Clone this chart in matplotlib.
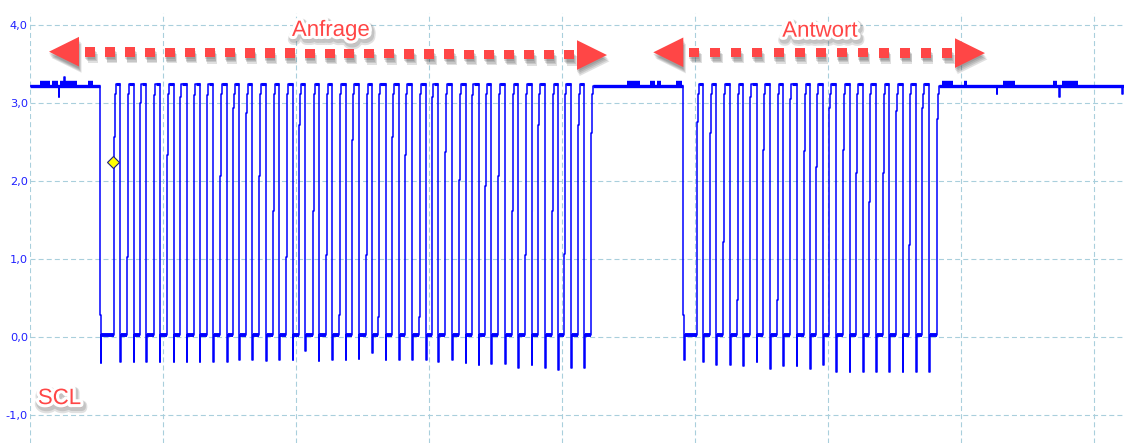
import numpy as np
import matplotlib
matplotlib.use("Agg")
import matplotlib.pyplot as plt
from matplotlib import patheffects as pe
from matplotlib.patches import Polygon, Rectangle

# x axis: scope samples (133 samples per division), y axis: volts
idle_level = 3.22
top_level = 3.24
low_level = 0.02

# request burst (Anfrage)
req_start_fall = 69.7
req_start_spike = -0.33
req_rises = [84, 97, 110.3, 123.7, 136.7, 150, 163.7, 177, 190.3,
             203, 216.3, 229.3, 242.7, 256, 269, 282.7, 295.7, 309.3,
             322.3, 335.7, 348.3, 362.3, 375, 389, 402.3, 415, 429,
             441.7, 455, 468.3, 481.7, 495, 508.3, 521.7, 534.3, 547.7]
req_mids = [2.57, 1.02, 3.0, 3.1, 2.33, 3.08, 3.1, 3.1, 2.06,
            2.93, 2.87, 2.06, 1.61, 1.02, 2.72, 1.61, 1.05, 0.28, 2.53,
            1.05, 0.26, 2.57, 2.33, 0.26, 3.08, 2.37, 2.01, 3.1, 1.93,
            2.06, 1.61, 1.05, 2.72, 1.61, 1.07, 2.72]
req_falls = [90.3, 103.7, 116.3, 129.7, 143.7, 156.7, 169.7, 183.3, 197,
             209.3, 222.3, 236.3, 249.3, 262.7, 275.3, 288.7, 302, 315.7,
             328.7, 342.3, 355.7, 369, 382.3, 396, 408.3, 422.3, 435.7,
             448.7, 461.3, 475.3, 488.3, 501.7, 515, 528.3, 541.3, 554.3]
req_spikes = [-0.32, -0.32, -0.32, -0.32, -0.32, -0.32, -0.32, -0.32, -0.32,
              -0.30, -0.30, -0.31, -0.30, -0.30, -0.18, -0.31, -0.30, -0.30, -0.28,
              -0.21, -0.29, -0.29, -0.29, -0.29, -0.32, -0.29, -0.33, -0.36,
              -0.34, -0.34, -0.40, -0.36, -0.40, -0.42, -0.40, -0.40]
req_stop_rise = 561.0
req_stop_mid = 2.61

# response burst (Antwort)
resp_start_fall = 653.3
resp_start_spike = -0.29
resp_rises = [666.7, 680, 693.3, 706.7, 720, 733.3, 746.7, 760, 774,
              786.3, 799.3, 812.7, 826, 839, 852.7, 865.7, 879.3, 892.3]
resp_mids = [2.76, 2.61, 1.22, 0.47, 3.08, 2.4, 0.47, 3.05, 2.38,
             2.18, 2.93, 2.4, 2.1, 1.73, 2.1, 2.9, 1.18, 2.93]
resp_falls = [673.3, 686.3, 700.3, 713.3, 726.7, 740, 753.3, 766.7, 780.3,
              793.3, 806.3, 819.7, 833.3, 846.3, 859.3, 872.7, 886, 899.3]
resp_spikes = [-0.32, -0.36, -0.36, -0.37, -0.32, -0.41, -0.37, -0.37, -0.41,
               -0.36, -0.45, -0.45, -0.45, -0.45, -0.45, -0.45, -0.45, -0.45]
resp_stop_rise = 906.7
resp_stop_mid = 2.8

# idle glitches and noisy stretches
idle_glitches = [(28.7, 3.08), (34.3, 3.33), (966.7, 3.12), (1029, 3.08), (1092, 3.12)]
idle_noise = [(10, 20), (22, 28), (30, 47), (58, 63),
              (597, 610), (620, 625), (627, 631), (646, 652),
              (912, 923), (934, 937), (973, 985), (1023, 1027), (1032, 1048)]
t_end = 1094

cursor_t, cursor_v = 83, 2.24

y_ticks = [-1, 0, 1, 2, 3, 4]
y_labels = ['-1,0', '0,0', '1,0', '2,0', '3,0', '4,0']
div = 133

BLUE = '#0000ff'
RED = '#ff4646'

ts, vs = [0.0], [idle_level]


def go(t, y):
    ts.append(t); vs.append(vs[-1])
    ts.append(t); vs.append(y)


def idle_until(t_stop):
    for gt, gy in idle_glitches:
        if ts[-1] < gt < t_stop:
            go(gt, gy)
            go(gt + 0.6, idle_level)
    go(t_stop, idle_level)


def rise(r, m, final=idle_level):
    go(r, m)
    if m < 3.0:
        go(r + 0.8, 3.12)
        go(r + 1.8, final)
    else:
        go(r + 1.0, final)


tops, lows = [], []


def burst(sf, sspike, rises, mids, falls, spikes, stop_r, stop_m):
    go(sf, 0.28)
    go(sf + 1.0, sspike)
    go(sf + 1.6, low_level)
    prev = sf + 1.6
    for r, m, f, s in zip(rises, mids, falls, spikes):
        lows.append((prev, r))
        rise(r, m, top_level)
        tops.append((r + 1.8, f))
        go(f, s)
        go(f + 0.6, low_level)
        prev = f + 0.6
    lows.append((prev, stop_r))
    rise(stop_r, stop_m)


idle_until(req_start_fall)
burst(req_start_fall, req_start_spike, req_rises, req_mids, req_falls,
      req_spikes, req_stop_rise, req_stop_mid)
idle_until(resp_start_fall)
burst(resp_start_fall, resp_start_spike, resp_rises, resp_mids, resp_falls,
      resp_spikes, resp_stop_rise, resp_stop_mid)
idle_until(t_end)

fig = plt.figure(figsize=(11.24, 4.43), dpi=100)
ax = fig.add_axes([30 / 1124, 0, 1094 / 1124, 430 / 443])

ax.plot(ts, vs, color=BLUE, lw=1.1, zorder=3)
ax.hlines([low_level] * len(lows), [a for a, b in lows], [b for a, b in lows],
          color=BLUE, lw=2.8, zorder=3)
ax.hlines([top_level] * len(tops), [a for a, b in tops], [b for a, b in tops],
          color=BLUE, lw=2.2, zorder=3)
idle_ranges = [(0, req_start_fall), (req_stop_rise + 1.8, resp_start_fall),
               (resp_stop_rise + 1.8, t_end)]
ax.hlines([idle_level] * 3, [a for a, b in idle_ranges], [b for a, b in idle_ranges],
          color=BLUE, lw=2.4, zorder=3)
ax.hlines([3.25] * len(idle_noise), [a for a, b in idle_noise], [b for a, b in idle_noise],
          color=BLUE, lw=4.6, zorder=3)

ax.plot([cursor_t], [cursor_v], marker='D', ms=6, color='#ffff00',
        mec='#202080', mew=0.8, zorder=5)

ax.set_xlim(0, t_end)
ax.set_ylim(-1.359, 4.154)
ax.set_xticks(np.arange(0, t_end, div))
ax.set_xticklabels([])
ax.set_yticks(y_ticks)
ax.set_yticklabels(y_labels)
ax.tick_params(length=0, labelsize=8.2, labelcolor='#1f1fff', pad=1.5)
ax.grid(True, color='#a9cfdc', lw=0.8, ls=(0, (4.5, 2.8)), zorder=0)
for s in ax.spines.values():
    s.set_visible(False)

shadow = [pe.SimplePatchShadow(offset=(o * 0.6, -1.5 - o), shadow_rgbFace='#444444', alpha=0.16)
          for o in (0, 1, 2, 3)] + [pe.Normal()]


def dotted_arrow(x_tip_l, x_tip_r, y_l, y_r, n_sq):
    head_len, half_h = 30, 0.19
    sq_w, sq_h = 10, 0.12
    centers = np.linspace(x_tip_l + head_len + 11, x_tip_r - head_len - 8, n_sq)
    for cx in centers:
        cy = y_l + (y_r - y_l) * (cx - x_tip_l) / (x_tip_r - x_tip_l)
        rect = Rectangle((cx - sq_w / 2, cy - sq_h / 2), sq_w, sq_h,
                         facecolor=RED, edgecolor='none', zorder=6)
        rect.set_path_effects(shadow)
        ax.add_patch(rect)
    left = Polygon([(x_tip_l, y_l), (x_tip_l + head_len, y_l + half_h),
                    (x_tip_l + head_len, y_l - half_h)], closed=True,
                   facecolor=RED, edgecolor='none', zorder=6)
    right = Polygon([(x_tip_r, y_r), (x_tip_r - head_len, y_r + half_h),
                     (x_tip_r - head_len, y_r - half_h)], closed=True,
                    facecolor=RED, edgecolor='none', zorder=6)
    for p in (left, right):
        p.set_path_effects(shadow)
        ax.add_patch(p)


dotted_arrow(19, 577, 3.658, 3.615, 25)
dotted_arrow(623.3, 955, 3.65, 3.64, 13)

text_fx = [pe.Stroke(linewidth=8, foreground='#555555', alpha=0.18, offset=(1, -2.5)),
           pe.Stroke(linewidth=6, foreground='#555555', alpha=0.2, offset=(1, -2)),
           pe.Stroke(linewidth=4.5, foreground='white'), pe.Normal()]
for x, y, s in [(301, 3.86, 'Anfrage'), (790, 3.85, 'Antwort'), (29.5, -0.86, 'SCL')]:
    ax.text(x, y, s, ha='center', va='baseline', fontsize=16, color=RED,
            family=['Liberation Sans', 'DejaVu Sans'], path_effects=text_fx, zorder=7)

fig.savefig('out.png', dpi=100)
